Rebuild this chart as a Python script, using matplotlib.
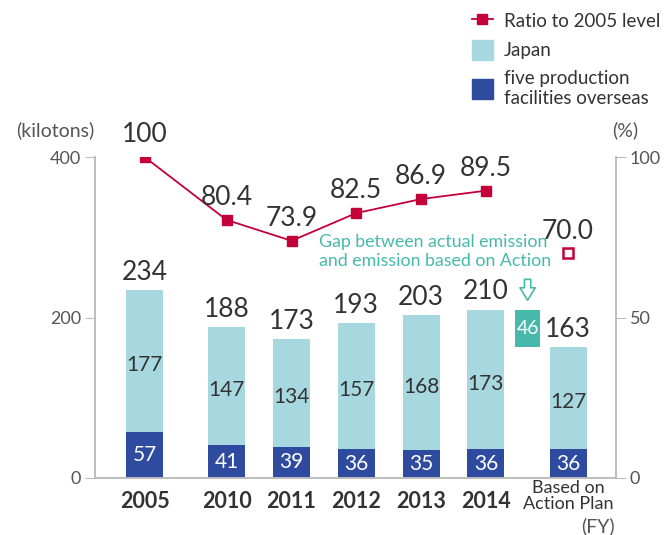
import matplotlib.pyplot as plt
from matplotlib.lines import Line2D
from matplotlib.patches import Patch

plt.rcParams['font.family'] = ['Lato', 'DejaVu Sans']

# data
years = ["2005", "2010", "2011", "2012", "2013", "2014"]
plan_label = "Based on\nAction Plan"
overseas = [57, 41, 39, 36, 35, 36, 36]
japan = [177, 147, 134, 157, 168, 173, 127]
totals = [234, 188, 173, 193, 203, 210, 163]
ratio = [100, 80.4, 73.9, 82.5, 86.9, 89.5]
ratio_plan = 70.0
gap = 46

# x positions (2005 and plan are set apart)
xpos = [0, 1.266, 2.27, 3.266, 4.27, 5.27, 6.54]
gap_x = 5.915

c_japan = "#a7d8df"
c_over = "#2f4b9f"
c_red = "#c4003a"
c_teal = "#47b9aa"
c_text = "#333333"
c_axis = "#bdbdbd"
c_tick = "#555555"

fig = plt.figure(figsize=(6.65, 5.35), dpi=100)
ax = fig.add_axes([95/665, 57/535, 521/665, 321/535])
ax2 = ax.twinx()

w = 0.57
ax.bar(xpos, overseas, width=w, color=c_over, zorder=2)
ax.bar(xpos, japan, width=w, bottom=overseas, color=c_japan, zorder=2)

# gap bar
ax.bar(gap_x, gap, width=0.39, bottom=totals[-1], color=c_teal, zorder=2)
ax.text(gap_x, totals[-1] + gap / 2, str(gap), ha="center", va="center",
        color="white", fontsize=14)

for x, o, j, t in zip(xpos, overseas, japan, totals):
    ax.text(x, o / 2, str(o), ha="center", va="center", color="white", fontsize=15)
    ax.text(x, o + j / 2 - 5, str(j), ha="center", va="center", color=c_text, fontsize=15)
    ax.annotate(str(t), (x, t), xytext=(0, 4), textcoords="offset points",
                ha="center", va="bottom", color=c_text, fontsize=19)

ax.set_xlim(-0.765, 7.28)
ax.set_ylim(0, 400)
ax.set_yticks([0, 200, 400])
ax.set_xticks(xpos[:len(years)])
ax.set_xticklabels(years, fontweight="bold", fontsize=15.5, color=c_text)
ax.tick_params(axis="x", length=0, pad=9)
ax.tick_params(axis="y", length=7, color=c_axis, labelcolor=c_tick, labelsize=13, pad=3)
ax.text(xpos[-1], -2, plan_label, ha="center", va="top", color=c_text,
        fontsize=13, linespacing=1.0)

# ratio line
ax2.plot(xpos[:len(ratio)], ratio, color=c_red, marker="s", markersize=7, lw=1.3, zorder=3)
ax2.plot(xpos[-1], ratio_plan, marker="s", markersize=7, mfc="white", mec=c_red,
         mew=1.8, ls="none")
for x, r in zip(xpos[:len(ratio)], ratio):
    lbl = "100" if r == 100 else f"{r:.1f}"
    ax2.annotate(lbl, (x, r), xytext=(0, 7), textcoords="offset points",
                 ha="center", va="bottom", color=c_text, fontsize=19)
ax2.annotate(f"{ratio_plan:.1f}", (xpos[-1], ratio_plan), xytext=(0, 7),
             textcoords="offset points", ha="center", va="bottom",
             color=c_text, fontsize=19)
ax2.set_ylim(0, 100)
ax2.set_yticks([0, 50, 100])
ax2.tick_params(axis="y", length=7, color=c_axis, labelcolor=c_tick, labelsize=13, pad=3)

for a in (ax, ax2):
    a.spines["top"].set_visible(False)
    for s in ("left", "right", "bottom"):
        a.spines[s].set_color(c_axis)
        a.spines[s].set_linewidth(1.2)

# annotation for gap
ax.text(2.7, 282, "Gap between actual emission\nand emission based on Action",
        ha="left", va="center", color=c_teal, fontsize=12.8, linespacing=1.25)
ax.annotate("", xy=(gap_x, 218), xytext=(gap_x, 251),
            arrowprops=dict(arrowstyle="simple,head_width=1.1,head_length=0.9,tail_width=0.45",
                            fc="white", ec=c_teal, lw=1.2))

fig.text(55/665, 1 - 130/535, "(kilotons)", ha="center", va="center",
         color=c_tick, fontsize=14)
fig.text(625/665, 1 - 130/535, "(%)", ha="center", va="center",
         color=c_tick, fontsize=14)
fig.text(598/665, 1 - 526/535, "(FY)", ha="center", va="center",
         color=c_tick, fontsize=14)

handles = [
    Line2D([0], [0], color=c_red, marker="s", markersize=7, lw=1.3),
    Patch(color=c_japan),
    Patch(color=c_over),
]
labels = ["Ratio to 2005 level", "Japan", "five production\nfacilities overseas"]
fig.legend(handles, labels, loc="upper left", bbox_to_anchor=(455/665, 1 + 6/535),
           frameon=False, fontsize=13.5, labelcolor=c_text, handlelength=1.1,
           handleheight=1.2, handletextpad=0.6, labelspacing=0.55)

fig.savefig("out.png", dpi=100)
